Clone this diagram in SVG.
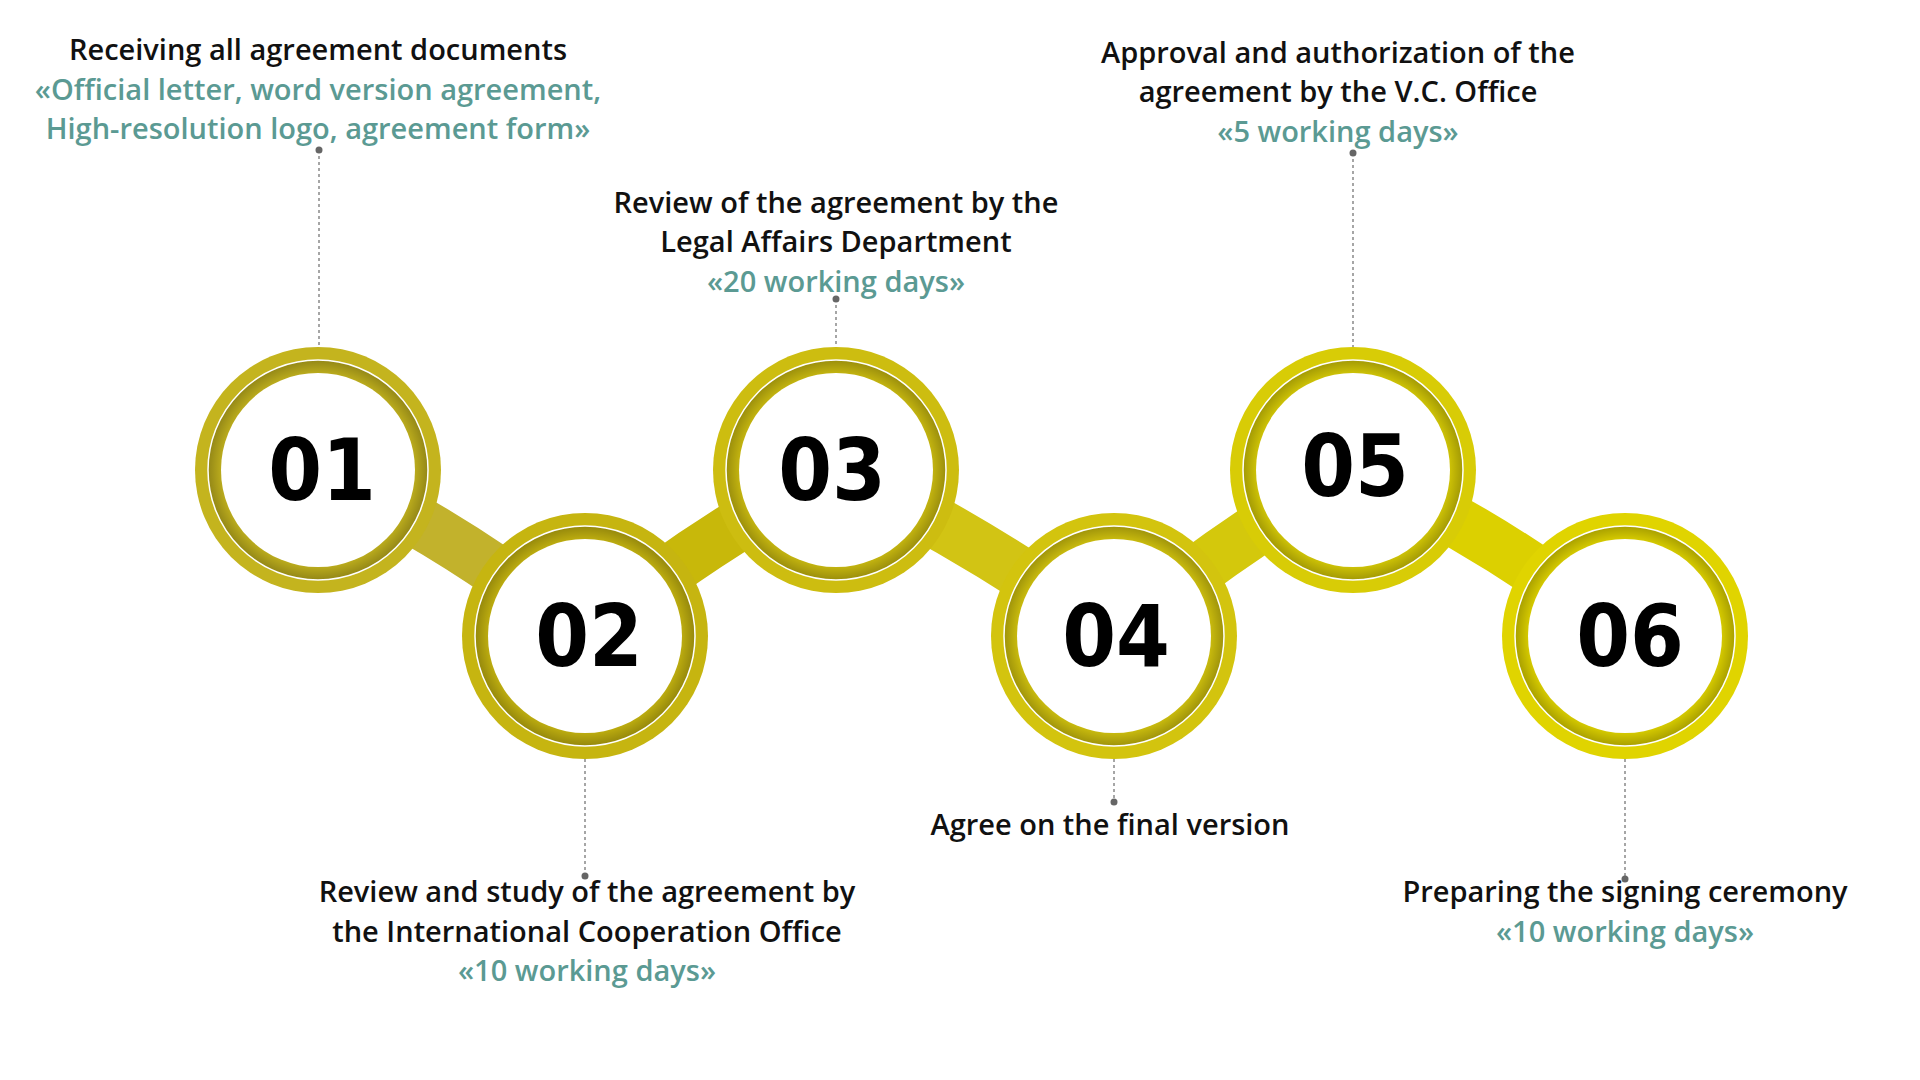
<svg xmlns="http://www.w3.org/2000/svg" width="1920" height="1080" viewBox="0 0 1920 1080">
<defs>
<radialGradient id="inner" cx="0.5" cy="0.5" r="0.5">
<stop offset="0.85" stop-color="#000" stop-opacity="0"/>
<stop offset="1" stop-color="#000" stop-opacity="0.25"/>
</radialGradient>
<style>
.t{font-family:"Open Sans","Liberation Sans",sans-serif;font-weight:600;font-size:29px;fill:#111;text-anchor:middle}
.g{fill:#5b9a93}
.n{font-family:"DejaVu Sans",sans-serif;font-stretch:condensed;font-weight:bold;font-size:86px;fill:#000;text-anchor:middle}
.lead{stroke:#777;stroke-width:1.3;stroke-dasharray:3 3;fill:none}
.dot{fill:#666}
.band{fill:none;stroke-width:52}
.ring{fill:none;stroke:#fff;stroke-width:1.5}
</style>
</defs>
<rect width="1920" height="1080" fill="#fff"/>
<g id="connectors">
<path class="band" stroke="#c2b22c" d="M318,470 Q450,530 585,636"/>
<path class="band" stroke="#c8b80a" d="M585,636 Q700,540 836,470"/>
<path class="band" stroke="#d2c414" d="M836,470 Q980,540 1114,636"/>
<path class="band" stroke="#d4c80c" d="M1114,636 Q1230,540 1353,470"/>
<path class="band" stroke="#dcd000" d="M1353,470 Q1490,530 1625,636"/>
<path class="lead" d="M319,150V347"/><circle class="dot" cx="319" cy="150" r="3.5"/>
<path class="lead" d="M836,299V347"/><circle class="dot" cx="836" cy="299" r="3.5"/>
<path class="lead" d="M1353,153V347"/><circle class="dot" cx="1353" cy="153" r="3.5"/>
<path class="lead" d="M585,759V876"/><circle class="dot" cx="585" cy="876" r="3.5"/>
<path class="lead" d="M1114,759V802"/><circle class="dot" cx="1114" cy="802" r="3.5"/>
<path class="lead" d="M1625,759V879"/><circle class="dot" cx="1625" cy="879" r="3.5"/>
</g>
<g id="n1"><circle cx="318" cy="470" r="123" fill="#c4b41e"/><circle cx="318" cy="470" r="110" fill="url(#inner)"/><circle class="ring" cx="318" cy="470" r="110"/><circle cx="318" cy="470" r="97" fill="#fff"/><text class="n" x="322" y="500">01</text>
<text class="t" x="318" y="60">Receiving all agreement documents</text><text class="t g" x="318" y="100">«Official letter, word version agreement,</text><text class="t g" x="318" y="139">High-resolution logo, agreement form»</text></g>
<g id="n2"><circle cx="585" cy="636" r="123" fill="#c6b510"/><circle cx="585" cy="636" r="110" fill="url(#inner)"/><circle class="ring" cx="585" cy="636" r="110"/><circle cx="585" cy="636" r="97" fill="#fff"/><text class="n" x="589" y="666">02</text>
<text class="t" x="587" y="902">Review and study of the agreement by</text><text class="t" x="587" y="942">the International Cooperation Office</text><text class="t g" x="587" y="981">«10 working days»</text></g>
<g id="n3"><circle cx="836" cy="470" r="123" fill="#cdbd10"/><circle cx="836" cy="470" r="110" fill="url(#inner)"/><circle class="ring" cx="836" cy="470" r="110"/><circle cx="836" cy="470" r="97" fill="#fff"/><text class="n" x="832" y="500">03</text>
<text class="t" x="836" y="213">Review of the agreement by the</text><text class="t" x="836" y="252">Legal Affairs Department</text><text class="t g" x="836" y="292">«20 working days»</text></g>
<g id="n4"><circle cx="1114" cy="636" r="123" fill="#d3c40e"/><circle cx="1114" cy="636" r="110" fill="url(#inner)"/><circle class="ring" cx="1114" cy="636" r="110"/><circle cx="1114" cy="636" r="97" fill="#fff"/><text class="n" x="1116" y="666">04</text>
<text class="t" x="1110" y="835">Agree on the final version</text></g>
<g id="n5"><circle cx="1353" cy="470" r="123" fill="#d8cc06"/><circle cx="1353" cy="470" r="110" fill="url(#inner)"/><circle class="ring" cx="1353" cy="470" r="110"/><circle cx="1353" cy="470" r="97" fill="#fff"/><text class="n" x="1355" y="496">05</text>
<text class="t" x="1338" y="63">Approval and authorization of the</text><text class="t" x="1338" y="102">agreement by the V.C. Office</text><text class="t g" x="1338" y="142">«5 working days»</text></g>
<g id="n6"><circle cx="1625" cy="636" r="123" fill="#e0d400"/><circle cx="1625" cy="636" r="110" fill="url(#inner)"/><circle class="ring" cx="1625" cy="636" r="110"/><circle cx="1625" cy="636" r="97" fill="#fff"/><text class="n" x="1630" y="666">06</text>
<text class="t" x="1625" y="902">Preparing the signing ceremony</text><text class="t g" x="1625" y="942">«10 working days»</text></g>
</svg>
